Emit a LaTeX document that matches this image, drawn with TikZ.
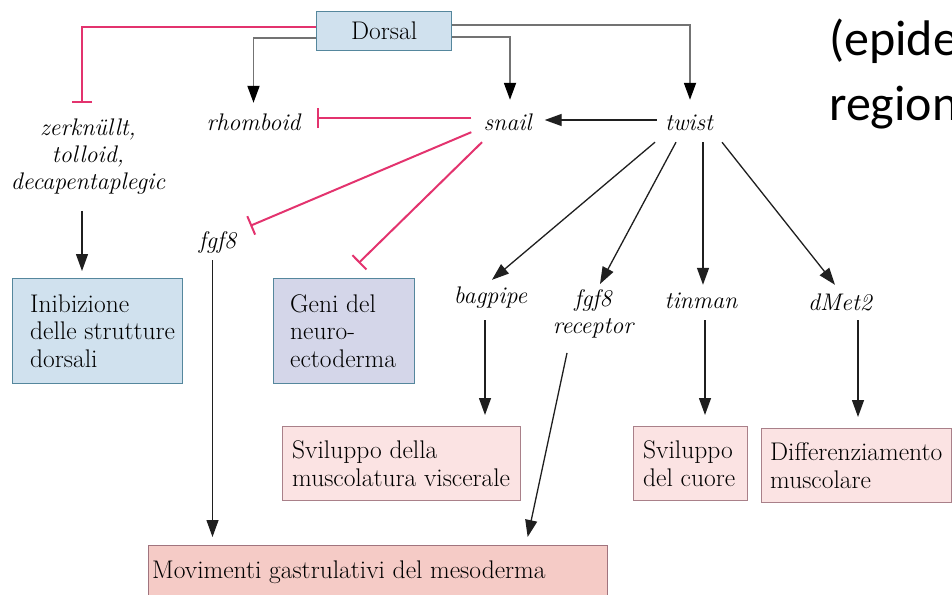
\documentclass[tikz,border=0pt]{standalone}
\usepackage{fontspec}
\newfontfamily\calibfont{Carlito}
\usetikzlibrary{arrows.meta,calc}
\definecolor{inhred}{HTML}{E3336E}
\definecolor{bluefill}{HTML}{D0E1EE}
\definecolor{blueedge}{HTML}{55879D}
\definecolor{lavfill}{HTML}{D4D6E9}
\definecolor{pinkfill}{HTML}{FBE3E3}
\definecolor{pinkedge}{HTML}{A98089}
\definecolor{rosefill}{HTML}{F5CBC6}
\definecolor{roseedge}{HTML}{A0747E}
\begin{document}
\begin{tikzpicture}[x=1pt,y=-1pt,
  txt/.style={font=\fontsize{25.5}{28}\selectfont},
  gene/.style={font=\fontsize{24}{27}\selectfont\itshape, inner sep=0pt,
    text height=15.5pt, text depth=4.5pt, anchor=base},
  genem/.style={font=\fontsize{24}{27}\selectfont\itshape, inner sep=0pt, align=center},
  box/.style={draw, line width=1.3pt, inner sep=0pt, anchor=north west},
  boxtext/.style={font=\fontsize{25.5}{27.5}\selectfont, inner sep=0pt, align=left, anchor=west},
  act/.style={draw=black!88, line width=1.3pt, -{Triangle[length=17pt,width=12pt]}},
  dact/.style={draw=black!55, line width=1.8pt, -{Triangle[length=17pt,width=12pt,color=black]}},
  inh/.style={draw=inhred, line width=2pt, -{Bar[width=20pt]}}
]
\useasboundingbox (0,0) rectangle (952,594);
\clip (0,0) rectangle (952,594);

% boxes
\node[box, fill=bluefill, draw=blueedge, minimum width=135pt, minimum height=39pt, txt] (dorsal) at (316,11) {Dorsal};
\node[box, fill=bluefill, draw=blueedge, minimum width=170pt, minimum height=105pt] (inib) at (12,278) {};
\node[boxtext] (inibT) at ($(inib.west)+(18,0)$) {Inibizione\\delle strutture\\dorsali};
\node[box, fill=lavfill, draw=blueedge, minimum width=141pt, minimum height=105pt] (geni) at (273,278) {};
\node[boxtext] (geniT) at ($(geni.west)+(17,0)$) {Geni del\\neuro-\\ectoderma};
\node[box, fill=pinkfill, draw=pinkedge, minimum width=238pt, minimum height=74pt] (visc) at (282,426) {};
\node[boxtext] (viscT) at ($(visc.west)+(10,0)$) {Sviluppo della\\muscolatura viscerale};
\node[box, fill=pinkfill, draw=pinkedge, minimum width=114pt, minimum height=74pt] (cuore) at (633,426) {};
\node[boxtext] (cuoreT) at ($(cuore.west)+(10,0)$) {Sviluppo\\del cuore};
\node[box, fill=pinkfill, draw=pinkedge, minimum width=190pt, minimum height=74pt] (diff) at (761,428) {};
\node[boxtext] (diffT) at ($(diff.west)+(9,0)$) {Differenziamento\\muscolare};
\node[box, fill=rosefill, draw=roseedge, minimum width=459pt, minimum height=60pt] (mov) at (148,545) {};
\node[boxtext] (movT) at ($(mov.west)+(4,-3)$) {Movimenti gastrulativi del mesoderma};

% genes
\node[genem] (zerk) at (88,156.5) {zerknüllt,\\tolloid,\\decapentaplegic};
\node[gene] (rhomboid) at (253.5,130) {rhomboid};
\node[gene] (snail) at (507.5,130) {snail};
\node[gene] (twist) at (689,130) {twist};
\node[gene] (fgf) at (217.5,248) {fgf8};
\node[gene] (bagpipe) at (490.5,303) {bagpipe};
\node[genem] (fgfr) at (593,314) {fgf8\\receptor};
\node[gene] (tinman) at (701,308) {tinman};
\node[gene] (dmet) at (840,310) {dMet2};

% cropped slide text
\node[anchor=base west, inner sep=0pt, font=\calibfont\fontsize{50}{65}\selectfont] (epi) at (829,56) {(epide};
\node[anchor=base west, inner sep=0pt, font=\calibfont\fontsize{50}{65}\selectfont] (reg) at (829,120) {region};

% connectors from Dorsal
\draw[inh] ([yshift=4.5pt]dorsal.west) -| ([xshift=-6pt,yshift=15.5pt]zerk.north);
\draw[dact, shorten >=11.5pt] ([yshift=-6.5pt]dorsal.west) -| (rhomboid.north);
\draw[dact, shorten >=14.5pt] ([yshift=6.5pt]dorsal.east) -| ([xshift=1pt]twist.north);
\draw[dact, shorten >=14.5pt] ([yshift=-5.5pt]dorsal.east) -| ([xshift=2.5pt]snail.north);

% snail / twist
\draw[inh, shorten <=12pt, shorten >=16.5pt] ([yshift=6.5pt]snail.west) -- ([yshift=6.5pt]rhomboid.east);
\draw[act, shorten <=8pt, shorten >=13pt] ([yshift=4.5pt]twist.west) -- ([yshift=4.5pt]snail.east);
\draw[inh] ([xshift=-12pt,yshift=2.5pt]snail.south west) -- ([xshift=14pt,yshift=6.5pt]fgf.north east);
\draw[inh] ([xshift=-25.5pt,yshift=-7.5pt]snail.south) -- ([xshift=14.5pt,yshift=15pt]geni.north);

\draw[act] ([xshift=-34pt,yshift=-7.5pt]twist.south) -- ([xshift=1.5pt,yshift=7.5pt]bagpipe.north);
\draw[act] ([xshift=-13pt,yshift=-7.5pt]twist.south) -- ([xshift=7pt,yshift=5.5pt]fgfr.north);
\draw[act, shorten >=7.5pt] ([xshift=14pt,yshift=-7.5pt]twist.south) coordinate (tA) -- (tA |- tinman.north);
\draw[act] ([xshift=33pt,yshift=-7.5pt]twist.south) -- ([xshift=-5pt,yshift=9.5pt]dmet.north);

% lower arrows
\draw[act, shorten <=16.5pt, shorten >=7pt] ([xshift=-6pt]zerk.south) coordinate (zA) -- (zA |- inib.north);
\draw[act, shorten <=7.5pt, shorten >=8pt] ([xshift=-5pt]fgf.south) coordinate (fA) -- (fA |- mov.north);
\draw[act, shorten <=12.5pt, shorten >=11pt] ([xshift=-5.5pt]bagpipe.south) coordinate (bA) -- (bA |- visc.north);
\draw[act] ([xshift=-26pt,yshift=-14.5pt]fgfr.south) -- ([xshift=149.5pt,yshift=8pt]mov.north);
\draw[act, shorten <=7.5pt, shorten >=11pt] ([xshift=4pt]tinman.south) coordinate (nA) -- (nA |- cuore.north);
\draw[act, shorten <=5.5pt, shorten >=11pt] ([xshift=18pt]dmet.south) coordinate (dA) -- (dA |- diff.north);
\end{tikzpicture}
\end{document}
